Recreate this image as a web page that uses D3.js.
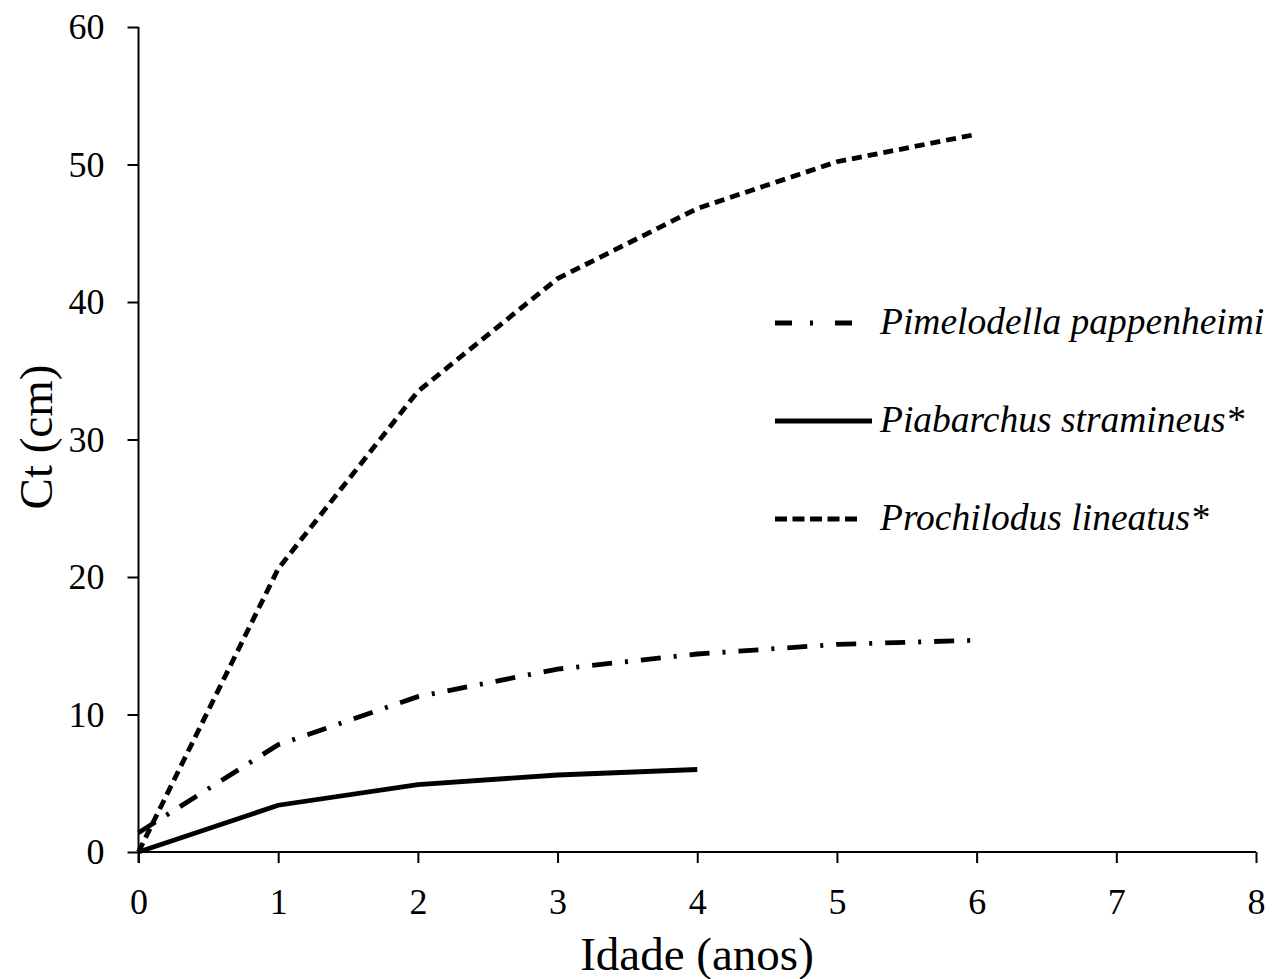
<!DOCTYPE html>
<html>
<head>
<meta charset="utf-8">
<script src="https://cdn.jsdelivr.net/npm/d3@7"></script>
<style>
  html, body { margin: 0; padding: 0; background: #fff; }
  svg { display: block; }
</style>
</head>
<body>
<svg id="chart" width="1273" height="979"></svg>
<script>
const ages = [0, 1, 2, 3, 4, 5, 6];
const pimelodella = [1.4, 7.8, 11.3, 13.3, 14.4, 15.1, 15.4];
const piabarchus = [0, 3.4, 4.9, 5.6, 6.0];
const prochilodus = [0, 20.6, 33.5, 41.7, 46.8, 50.2, 52.2];
const seriesNames = ["Pimelodella pappenheimi", "Piabarchus stramineus*", "Prochilodus lineatus*"];
const xTicks = [0, 1, 2, 3, 4, 5, 6, 7, 8];
const yTicks = [0, 10, 20, 30, 40, 50, 60];
const xTitle = "Idade (anos)";
const yTitle = "Ct (cm)";

const svg = d3.select("#chart");
const font = "'Liberation Serif', 'Times New Roman', serif";

const x = d3.scaleLinear().domain([0, 8]).range([138.5, 1256]);
const y = d3.scaleLinear().domain([0, 60]).range([852, 27]);

// axes
const xAxis = svg.append("g").attr("transform", `translate(0,${y(0)})`)
  .call(d3.axisBottom(x).tickValues(xTicks).tickSize(11).tickPadding(25).tickFormat(d3.format("d")));
const yAxis = svg.append("g").attr("transform", `translate(${x(0)},0)`)
  .call(d3.axisLeft(y).tickValues(yTicks).tickSize(11).tickPadding(23).tickFormat(d3.format("d")));
[xAxis, yAxis].forEach(g => {
  g.select(".domain").attr("stroke", "#000").attr("stroke-width", 2);
  g.selectAll(".tick line").attr("stroke", "#000").attr("stroke-width", 2);
  g.selectAll(".tick text").attr("font-family", font).attr("font-size", 36).attr("fill", "#000");
});
xAxis.select(".domain").attr("d", `M${x(0)},0H${x(8)}`);
yAxis.select(".domain").attr("d", `M0,${y(0) + 11}V${y(60)}`);

svg.append("text").attr("x", 697).attr("y", 970).attr("text-anchor", "middle")
  .attr("font-family", font).attr("font-size", 47).text(xTitle);
svg.append("text").attr("transform", `translate(52,437) rotate(-90)`).attr("text-anchor", "middle")
  .attr("font-family", font).attr("font-size", 47).text(yTitle);

const line = d3.line().x(d => x(d[0])).y(d => y(d[1]));
const styles = [
  { data: pimelodella, dash: "20,13,3,13" },
  { data: piabarchus, dash: null },
  { data: prochilodus, dash: "10,6" }
];
styles.forEach(s => {
  svg.append("path")
    .datum(s.data.map((v, i) => [ages[i], v]))
    .attr("d", line)
    .attr("fill", "none")
    .attr("stroke", "#000")
    .attr("stroke-width", 4.8)
    .attr("stroke-dasharray", s.dash)
    .attr("stroke-linecap", "butt");
});

// legend
const legendY = [323, 421, 519];
const legendDash = ["17,18,3,22", null, "12,5.5"];
const legendX2 = [858, 872, 857];
seriesNames.forEach((name, i) => {
  svg.append("line").attr("x1", 775).attr("x2", legendX2[i])
    .attr("y1", legendY[i]).attr("y2", legendY[i])
    .attr("stroke", "#000").attr("stroke-width", 4.8)
    .attr("stroke-dasharray", legendDash[i]);
  svg.append("text").attr("x", 880).attr("y", legendY[i] + 11)
    .attr("font-family", font).attr("font-style", "italic").attr("font-size", 37.5)
    .text(name);
});
</script>
</body>
</html>
